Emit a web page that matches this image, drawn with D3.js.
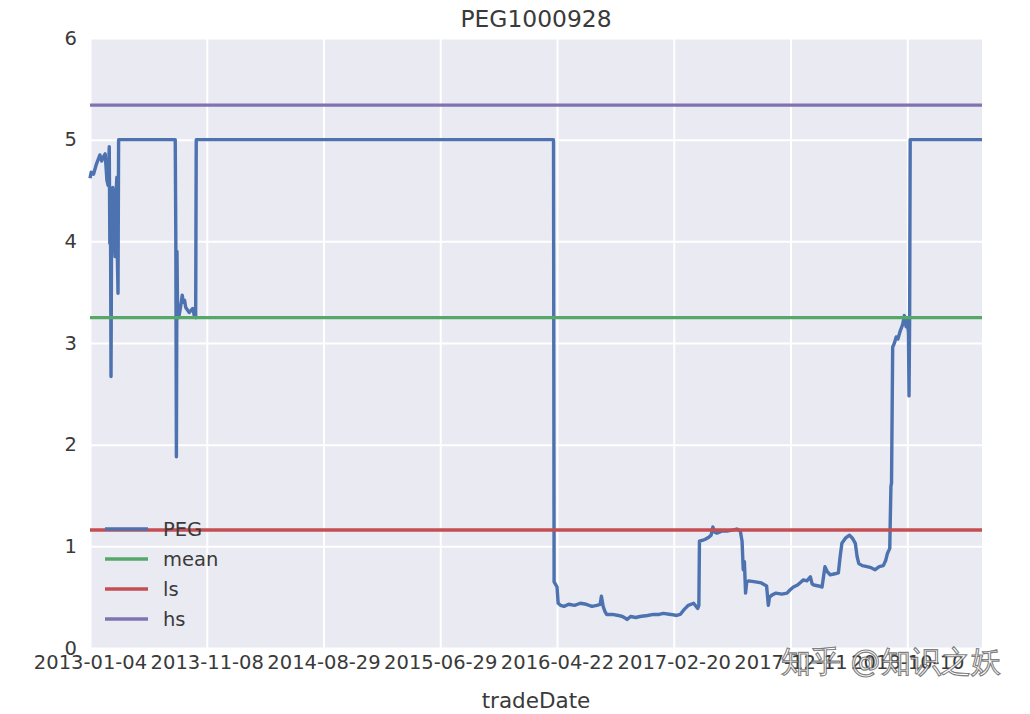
<!DOCTYPE html>
<html>
<head>
<meta charset="utf-8">
<script src="https://cdn.jsdelivr.net/npm/d3@7"></script>
<style>
  body { margin: 0; background: #fff; }
  text { font-family: "DejaVu Sans", sans-serif; }
</style>
</head>
<body>
<div id="chart"></div>
<script>
// x axis: trading-day index, labelled every 200 days
const tickIdx = [0, 200, 400, 600, 800, 1000, 1200, 1400];
const tickLabels = ["2013-01-04", "2013-11-08", "2014-08-29", "2015-06-29",
  "2016-04-22", "2017-02-20", "2017-12-11", "2018-10-10"];
const lastIdx = 1528;

// PEG series (index, value)
const pegIdx = [0, 2, 6, 11, 17, 20, 23, 26, 29, 31, 33, 34, 35, 36, 37, 39, 41, 43, 44, 46, 47, 48, 49,
  146, 147, 148, 149, 150, 152, 155, 158, 160, 162, 164, 170, 176, 179, 181, 182,
  794, 795, 798, 800, 802, 806, 812, 820, 830, 840, 850, 860, 868, 874, 876, 879, 882, 885,
  895, 905, 912, 918, 920, 926, 935, 942, 955, 965, 975, 982, 995, 1005, 1011, 1018, 1025,
  1034, 1041, 1043, 1044, 1050, 1054, 1060, 1064, 1067, 1070, 1074, 1082, 1091, 1100, 1108,
  1114, 1117, 1119, 1121, 1123, 1125, 1128, 1140, 1150, 1159, 1162, 1164, 1168, 1175, 1185,
  1194, 1199, 1205, 1212, 1218, 1222, 1228, 1234, 1237, 1240, 1248, 1254, 1257, 1259, 1263,
  1268, 1276, 1282, 1285, 1288, 1294, 1301, 1306, 1311, 1314, 1317, 1323, 1331, 1338, 1345,
  1352, 1359, 1363, 1366, 1370, 1371, 1372, 1373, 1375, 1378, 1381, 1384, 1388, 1392, 1395,
  1398, 1400, 1402, 1403, 1404, 1405, 1528];
const pegVal = [4.62, 4.68, 4.66, 4.76, 4.85, 4.79, 4.83, 4.86, 4.6, 4.55, 4.93, 3.98, 4.5, 2.67, 4.1, 4.53, 4.2, 3.85, 4.4, 4.63, 3.8, 3.49, 5,
  5, 4.04, 1.88, 3.9, 3.3, 3.25, 3.35, 3.47, 3.4, 3.42, 3.35, 3.3, 3.34, 3.26, 3.25, 5,
  5, 0.65, 0.62, 0.6, 0.44, 0.42, 0.41, 0.43, 0.42, 0.44, 0.43, 0.41, 0.42, 0.43, 0.51, 0.41, 0.36, 0.33,
  0.33, 0.32, 0.31, 0.29, 0.28, 0.31, 0.30, 0.31, 0.32, 0.33, 0.33, 0.34, 0.33, 0.32, 0.33, 0.38, 0.42,
  0.44, 0.39, 0.42, 1.05, 1.06, 1.07, 1.09, 1.11, 1.19, 1.14, 1.13, 1.15, 1.15, 1.16, 1.17,
  1.15, 1.05, 0.77, 0.85, 0.54, 0.65, 0.66, 0.65, 0.64, 0.61, 0.42, 0.50, 0.52, 0.54, 0.53,
  0.54, 0.57, 0.6, 0.62, 0.65, 0.67, 0.66, 0.70, 0.63, 0.62, 0.61, 0.6, 0.72, 0.8, 0.75,
  0.72, 0.73, 0.74, 0.9, 1.03, 1.08, 1.11, 1.08, 1.03, 0.9, 0.83, 0.81, 0.8, 0.79, 0.77,
  0.8, 0.81, 0.86, 0.93, 0.98, 1.3, 1.59, 1.62, 2.96, 3.0, 3.06, 3.04, 3.12, 3.18, 3.27,
  3.16, 3.22, 3.1, 2.48, 3.2, 5, 5];

// horizontal reference levels
const levelNames = ["mean", "ls", "hs"];
const levelValues = [3.25, 1.16, 5.34];

const seriesNames = ["PEG", "mean", "ls", "hs"];
const colors = ["#4C72B0", "#55A868", "#C44E52", "#8172B2"];

const svgWidth = 1030;
const svgHeight = 714;
const margin = { top: 38, right: 48, bottom: 66, left: 90 };
const width = svgWidth - margin.left - margin.right;
const height = svgHeight - margin.top - margin.bottom;

const svg = d3.select("#chart")
  .append("svg")
  .attr("width", svgWidth)
  .attr("height", svgHeight);

const chartGroup = svg.append("g")
  .attr("transform", `translate(${margin.left}, ${margin.top})`);

const x = d3.scaleLinear().domain([0, lastIdx]).range([0, width]);
const y = d3.scaleLinear().domain([0, 6]).range([height, 0]);

// background
chartGroup.append("rect")
  .attr("width", width)
  .attr("height", height)
  .attr("fill", "#EAEAF2");

// y axis + horizontal grid
const yAxis = chartGroup.append("g")
  .call(d3.axisLeft(y).ticks(6).tickSize(-width).tickPadding(13));
yAxis.select(".domain").remove();
yAxis.selectAll("line").attr("stroke", "#fff").attr("stroke-width", 2);
yAxis.selectAll("text")
  .attr("font-size", "19.5px")
  .attr("font-family", "DejaVu Sans, sans-serif")
  .attr("fill", "#3a3a3a");

// x axis + vertical grid
const xAxis = chartGroup.append("g")
  .attr("transform", `translate(0, ${height})`)
  .call(d3.axisBottom(x).tickValues(tickIdx)
    .tickFormat((d, i) => tickLabels[i])
    .tickSize(-height).tickPadding(7));
xAxis.select(".domain").remove();
xAxis.selectAll("line").attr("stroke", "#fff").attr("stroke-width", 2);
xAxis.selectAll("text")
  .attr("font-size", "19.5px")
  .attr("font-family", "DejaVu Sans, sans-serif")
  .attr("fill", "#3a3a3a");

// lines
const pegData = pegIdx.map((d, i) => ({ i: d, v: pegVal[i] }));
const line = d3.line().x(d => x(d.i)).y(d => y(d.v));

chartGroup.append("path")
  .datum(pegData)
  .attr("d", line)
  .attr("fill", "none")
  .attr("stroke", colors[0])
  .attr("stroke-width", 3.4)
  .attr("stroke-linejoin", "round");

levelValues.forEach((v, k) => {
  chartGroup.append("path")
    .datum([{ i: 0, v: v }, { i: lastIdx, v: v }])
    .attr("d", line)
    .attr("fill", "none")
    .attr("stroke", colors[k + 1])
    .attr("stroke-width", 3.4);
});

// legend
const legend = chartGroup.append("g")
  .attr("transform", `translate(15, ${height - 119})`);
seriesNames.forEach((name, k) => {
  const row = legend.append("g").attr("transform", `translate(0, ${k * 30})`);
  row.append("line")
    .attr("x1", 0).attr("x2", 43)
    .attr("stroke", colors[k])
    .attr("stroke-width", 3.4);
  row.append("text")
    .attr("x", 58)
    .attr("dy", "0.35em")
    .attr("font-size", "19.5px")
    .attr("fill", "#3a3a3a")
    .text(name);
});

// title and axis label
svg.append("text")
  .attr("x", margin.left + width / 2)
  .attr("y", 27)
  .attr("text-anchor", "middle")
  .attr("font-size", "23.4px")
  .attr("fill", "#3a3a3a")
  .text("PEG1000928");

svg.append("text")
  .attr("x", margin.left + width / 2)
  .attr("y", 708)
  .attr("text-anchor", "middle")
  .attr("font-size", "21.5px")
  .attr("fill", "#3a3a3a")
  .text("tradeDate");

// watermark
svg.append("text")
  .attr("x", 781)
  .attr("y", 672)
  .attr("font-family", "Noto Sans CJK SC, sans-serif")
  .attr("font-size", "30px")
  .attr("fill", "rgba(255,255,255,0.8)")
  .attr("stroke", "rgba(70,70,70,0.7)")
  .attr("stroke-width", 1.1)
  .text("知乎 @知识之妖");
</script>
</body>
</html>
